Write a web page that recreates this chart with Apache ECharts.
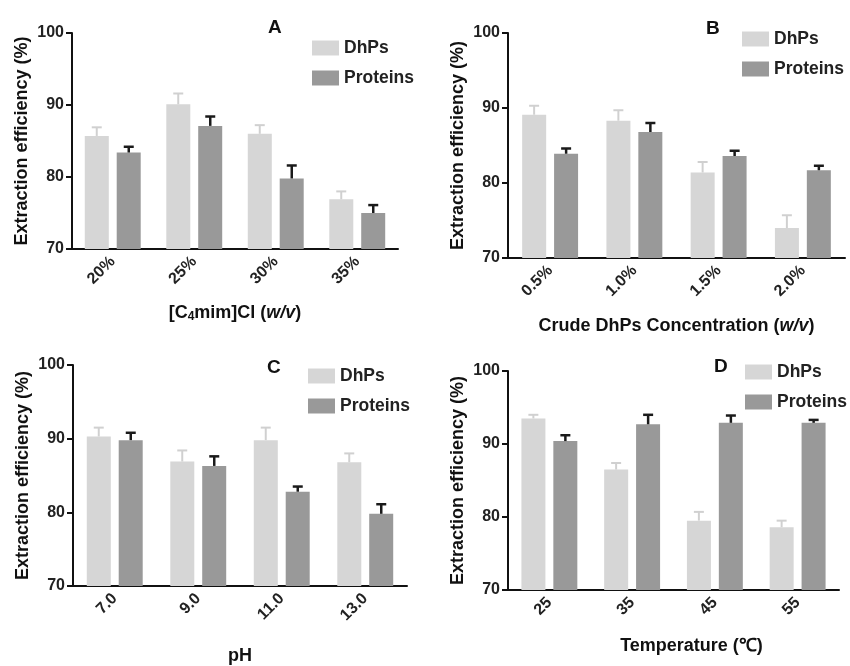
<!DOCTYPE html>
<html>
<head>
<meta charset="utf-8">
<script src="https://cdn.jsdelivr.net/npm/echarts@6/dist/echarts.min.js"></script>
<style>
  html, body { margin: 0; padding: 0; background: #fff; }
  #main { width: 850px; height: 666px; }
</style>
</head>
<body>
<div id="main"></div>
<script>
// categories per panel
const catsA = ['20%', '25%', '30%', '35%'];
const catsB = ['0.5%', '1.0%', '1.5%', '2.0%'];
const catsC = ['7.0', '9.0', '11.0', '13.0'];
const catsD = ['25', '35', '45', '55'];

// mean values and top of error bar
const dhpsA = [85.7, 90.1, 86.0, 76.9];
const dhpsErrA = [86.9, 91.6, 87.2, 78.0];
const protA = [83.4, 87.1, 79.8, 75.0];
const protErrA = [84.2, 88.4, 81.6, 76.1];

const dhpsB = [89.1, 88.3, 81.4, 74.0];
const dhpsErrB = [90.3, 89.7, 82.8, 75.7];
const protB = [83.9, 86.8, 83.6, 81.7];
const protErrB = [84.6, 88.0, 84.3, 82.3];

const dhpsC = [90.3, 86.9, 89.8, 86.8];
const dhpsErrC = [91.5, 88.4, 91.5, 88.0];
const protC = [89.8, 86.3, 82.8, 79.8];
const protErrC = [90.8, 87.6, 83.5, 81.1];

const dhpsD = [93.5, 86.5, 79.5, 78.6];
const dhpsErrD = [94.0, 87.4, 80.7, 79.5];
const protD = [90.4, 92.7, 92.9, 92.9];
const protErrD = [91.2, 94.0, 93.9, 93.3];

const yTicks = [70, 80, 90, 100];

const lightColor = '#d6d6d6';
const darkColor = '#999999';
const font = 'Liberation Sans, Arial, sans-serif';

const panels = [
    { cats: catsA, dhps: dhpsA, dhpsErr: dhpsErrA, prot: protA, protErr: protErrA,
      grid: { left: 72, top: 33, width: 326, height: 216 },
      xName: '[C{sub|4}mim]Cl ({it|w/v})', xGap: 55, xShift: 0,
      title: 'A', titlePos: [263, 13], legendPos: [307, 34] },
    { cats: catsB, dhps: dhpsB, dhpsErr: dhpsErrB, prot: protB, protErr: protErrB,
      grid: { left: 508, top: 33, width: 337, height: 225 },
      xName: 'Crude DhPs Concentration ({it|w/v})', xGap: 59, xShift: 0,
      title: 'B', titlePos: [701, 14], legendPos: [737, 25] },
    { cats: catsC, dhps: dhpsC, dhpsErr: dhpsErrC, prot: protC, protErr: protErrC,
      grid: { left: 73, top: 365, width: 334, height: 221 },
      xName: 'pH', xGap: 61, xShift: 0,
      title: 'C', titlePos: [262, 353], legendPos: [303, 362] },
    { cats: catsD, dhps: dhpsD, dhpsErr: dhpsErrD, prot: protD, protErr: protErrD,
      grid: { left: 508, top: 371, width: 331, height: 219 },
      xName: 'Temperature (℃)', xGap: 47, xShift: 18,
      title: 'D', titlePos: [709, 352], legendPos: [740, 358] }
];

function errRender(offset, color, lw) {
    return function (params, api) {
        const base = api.coord([api.value(0), api.value(1)]);
        const top = api.coord([api.value(0), api.value(2)]);
        const cx = base[0] + offset;
        const st = { stroke: color, lineWidth: lw };
        return {
            type: 'group',
            children: [
                { type: 'line', shape: { x1: cx, y1: base[1], x2: cx, y2: top[1] }, style: st },
                { type: 'line', shape: { x1: cx - 5, y1: top[1], x2: cx + 5, y2: top[1] }, style: st }
            ]
        };
    };
}

const option = {
    backgroundColor: '#fff',
    animation: false,
    textStyle: { fontFamily: font },
    title: [],
    legend: [],
    grid: [],
    xAxis: [],
    yAxis: [],
    series: []
};

panels.forEach((p, i) => {
    option.grid.push(Object.assign({ outerBoundsMode: 'none' }, p.grid));
    option.title.push({
        text: p.title, left: p.titlePos[0], top: p.titlePos[1],
        textStyle: { fontSize: 19, fontWeight: 'bold', color: '#111', fontFamily: font }
    });
    option.legend.push({
        data: ['DhPs', 'Proteins'], orient: 'vertical',
        left: p.legendPos[0], top: p.legendPos[1],
        itemWidth: 27, itemHeight: 15, itemGap: 12,
        icon: 'rect', selectedMode: false,
        textStyle: { fontSize: 17.5, fontWeight: 'bold', color: '#222', fontFamily: font }
    });
    option.xAxis.push({
        type: 'category', gridIndex: i, data: p.cats,
        name: p.xName, nameLocation: 'middle', nameGap: p.xGap,
        nameTextStyle: {
            fontSize: 18, fontWeight: 'bold', color: '#111', fontFamily: font,
            padding: [0, 0, 0, p.xShift * 2],
            rich: {
                sub: { fontSize: 12, fontWeight: 'bold', verticalAlign: 'bottom', padding: [7, 0, 0, 0], color: '#111' },
                it: { fontSize: 18, fontWeight: 'bold', fontStyle: 'italic', color: '#111' }
            }
        },
        axisLine: { lineStyle: { color: '#111', width: 2 } },
        axisTick: { alignWithLabel: true, length: 6, lineStyle: { color: '#111', width: 2 } },
        axisLabel: { rotate: 45, fontSize: 16, fontWeight: 'bold', color: '#222', margin: 10 }
    });
    option.yAxis.push({
        type: 'value', gridIndex: i, min: yTicks[0], max: yTicks[yTicks.length - 1], interval: 10,
        name: 'Extraction efficiency (%)', nameLocation: 'middle', nameGap: 41,
        nameTextStyle: { fontSize: 18, fontWeight: 'bold', color: '#111', fontFamily: font },
        axisLine: { show: true, lineStyle: { color: '#111', width: 2 } },
        axisTick: { show: true, length: 6, lineStyle: { color: '#111', width: 2 } },
        axisLabel: { fontSize: 16, fontWeight: 'bold', color: '#222', margin: 8 },
        splitLine: { show: false }
    });
    option.series.push(
        { name: 'DhPs', type: 'bar', xAxisIndex: i, yAxisIndex: i, data: p.dhps,
          barWidth: 24, barGap: '33%', itemStyle: { color: lightColor } },
        { name: 'Proteins', type: 'bar', xAxisIndex: i, yAxisIndex: i, data: p.prot,
          barWidth: 24, barGap: '33%', itemStyle: { color: darkColor } },
        { name: 'errDhPs' + i, type: 'custom', xAxisIndex: i, yAxisIndex: i, z: 3,
          renderItem: errRender(-16, '#d0d0d0', 2),
          data: p.dhps.map((v, k) => [k, v, p.dhpsErr[k]]) },
        { name: 'errProt' + i, type: 'custom', xAxisIndex: i, yAxisIndex: i, z: 3,
          renderItem: errRender(16, '#1a1a1a', 2.5),
          data: p.prot.map((v, k) => [k, v, p.protErr[k]]) }
    );
});

const chart = echarts.init(document.getElementById('main'), null, { renderer: 'canvas' });
chart.setOption(option);
</script>
</body>
</html>
